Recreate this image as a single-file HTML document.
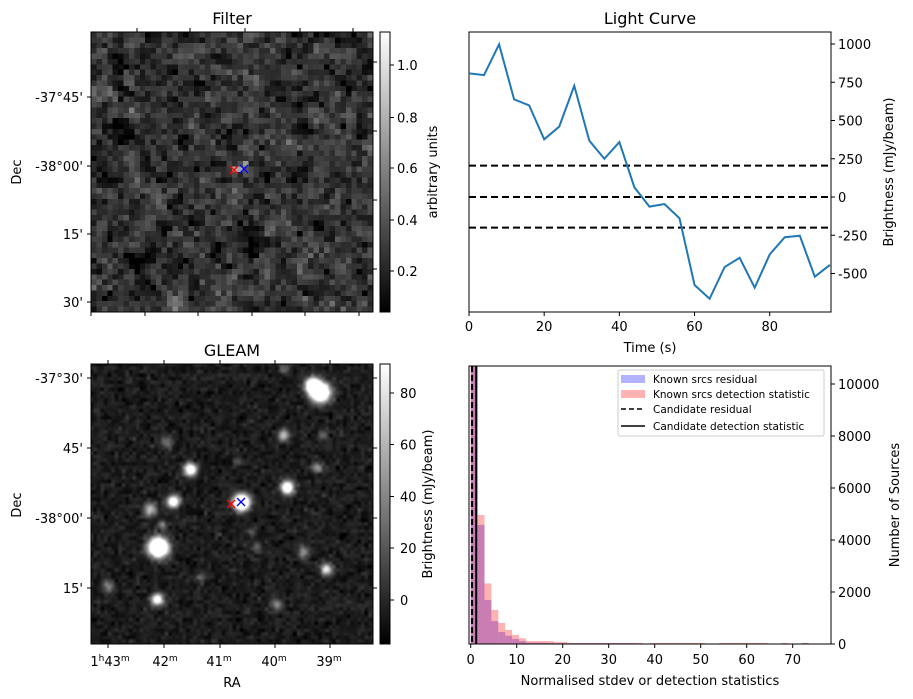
<!DOCTYPE html>
<html><head><meta charset="utf-8">
<style>
body{margin:0;background:#fff;width:913px;height:699px;overflow:hidden;position:relative;font-family:"DejaVu Sans","Liberation Sans",sans-serif;}
canvas{position:absolute;}
svg{position:absolute;left:0;top:0;}
svg text{font-family:"DejaVu Sans","Liberation Sans",sans-serif;fill:#000;}
</style></head><body>
<canvas id="filterImg" width="52" height="52" style="left:91px;top:32px;width:282px;height:280px;image-rendering:pixelated;"></canvas>
<canvas id="gleamImg" width="282" height="280" style="left:91px;top:364px;width:282px;height:280px;"></canvas>
<canvas id="cb1" width="1" height="280" style="left:380px;top:32px;width:10px;height:280px;"></canvas>
<canvas id="cb2" width="1" height="280" style="left:380px;top:364px;width:10px;height:280px;"></canvas>
<svg id="svg" width="913" height="699" xmlns="http://www.w3.org/2000/svg"></svg>
<script>
// ---- Light curve data ----
const lcTimes=[0,4,8,12,16,20,24,28,32,36,40,44,48,52,56,60,64,68,72,76,80,84,88,92,96];
const lcValues=[808,797,998,638,599,377,460,727,368,250,359,63,-63,-46,-139,-575,-665,-458,-397,-593,-375,-263,-253,-521,-444];
const lcThresholds=[205,0,-200];
const lcXTicks=[0,20,40,60,80];
const lcYTicks=[1000,750,500,250,0,-250,-500];
// ---- Histogram data ----
const histBinWidth=1.5;
const histBlue=[11500,4580,1690,880,460,320,190,115,50,50,50,40,30,30,30,30,30,30,30,30,30,30,30,30,0,0,0,0,0,0,0,0,0,0,0,0,0,0,0,0,0,0,0,0,0,0,0,0,30,0,0,0];
const histRed=[11500,4960,2330,1310,810,540,350,220,115,115,115,115,80,80,40,40,40,40,40,40,40,40,40,40,40,0,40,40,40,40,40,40,40,40,0,0,40,40,40,40,40,40,40,0,0,40,0,0,40,0,0,0];
const histXTicks=[0,10,20,30,40,50,60,70];
const histYTicks=[0,2000,4000,6000,8000,10000];
const candResidual=0.3, candDetect=1.2;
// ---- GLEAM sources [x px, y px, amplitude, sigma] (image texture) ----
const gleamSources=[[312,385,160,5],[320,392,200,6.5],[283,435,70,4],[323,435,30,3.5],[167,442,40,4],[190,469,130,4.5],[317,467,45,4],[287,487,140,4.5],[173,501,130,4.2],[150,509,70,4.5],[241,502,200,5.5],[162,525,35,3.5],[158,547,220,6.5],[303,552,55,4],[326,569,90,4],[108,586,45,4],[157,599,120,4.2],[276,604,50,4],[283,368,40,3.5],[251,532,25,3],[257,546,30,3.5],[200,578,25,3.5],[238,461,25,3]];

const svg=document.getElementById('svg');
const NS='http://www.w3.org/2000/svg';
function el(tag,attrs,parent){const e=document.createElementNS(NS,tag);for(const k in attrs)e.setAttribute(k,attrs[k]);(parent||svg).appendChild(e);return e;}
function txt(s,x,y,size,anchor,parent,rot){const t=el('text',{x:x,y:y,'font-size':size,'text-anchor':anchor||'middle'},parent);if(rot)t.setAttribute('transform','rotate('+rot+' '+x+' '+y+')');t.textContent=s;return t;}

let seed=12345;function rnd(){seed=(seed*1103515245+12345)&0x7fffffff;return seed/0x7fffffff;}
function gauss(){return Math.sqrt(-2*Math.log(rnd()+1e-9))*Math.cos(2*Math.PI*rnd());}

// ---- Filter image ----
(function(){const c=document.getElementById('filterImg').getContext('2d');const N=52;let a=[];for(let i=0;i<N*N;i++)a.push(gauss());
let b=[];for(let y=0;y<N;y++)for(let x=0;x<N;x++){let s=0,w=0;for(let dy=-1;dy<=1;dy++)for(let dx=-1;dx<=1;dx++){const xx=x+dx,yy=y+dy;if(xx<0||yy<0||xx>=N||yy>=N)continue;const ww=(dx==0&&dy==0)?2.5:0.3;s+=a[yy*N+xx]*ww;w+=ww;}b.push(s/w);}
const img=c.createImageData(N,N);for(let i=0;i<N*N;i++){let v=0.25+b[i]*0.17;const x=i%N,y=Math.floor(i/N);if((x==26||x==27)&&y==25)v=0.75;if(x==28&&y==24)v=0.7;v=Math.max(0.041,Math.min(1.128,v));const g=Math.round((v-0.041)/(1.128-0.041)*255);img.data[i*4]=g;img.data[i*4+1]=g;img.data[i*4+2]=g;img.data[i*4+3]=255;}c.putImageData(img,0,0);})();

// ---- GLEAM image ----
(function(){const c=document.getElementById('gleamImg').getContext('2d');const W=282,H=280;const M=80;let a=[];for(let i=0;i<M*M;i++)a.push(gauss());
function noise(x,y){const fx=x/W*(M-1),fy=y/H*(M-1);const x0=Math.floor(fx),y0=Math.floor(fy);const tx=fx-x0,ty=fy-y0;const s=t=>t*t*(3-2*t);const g=(i,j)=>a[Math.min(M-1,j)*M+Math.min(M-1,i)];const u=s(tx),v=s(ty);return (g(x0,y0)*(1-u)+g(x0+1,y0)*u)*(1-v)+(g(x0,y0+1)*(1-u)+g(x0+1,y0+1)*u)*v;}
const img=c.createImageData(W,H);for(let y=0;y<H;y++)for(let x=0;x<W;x++){let v=-5+noise(x,y)*5;const px=x+91,py=y+364;for(const s of gleamSources){const d2=(px-s[0])**2+(py-s[1])**2;v+=s[2]*Math.exp(-d2/(2*s[3]*s[3]));}
v=Math.max(-17,Math.min(91,v));const g=Math.round((v+17)/108*255);const i=(y*W+x)*4;img.data[i]=g;img.data[i+1]=g;img.data[i+2]=g;img.data[i+3]=255;}c.putImageData(img,0,0);})();

['cb1','cb2'].forEach(id=>{const c=document.getElementById(id).getContext('2d');const g=c.createLinearGradient(0,0,0,280);g.addColorStop(0,'#fff');g.addColorStop(1,'#000');c.fillStyle=g;c.fillRect(0,0,1,280);});

function frame(x,y,w,h,name){const r=el('rect',{x:x,y:y,width:w,height:h,fill:'none',stroke:'#000','stroke-width':1});}
frame(91,32,282,280,'filter-frame');frame(380,32,10,280,'filter-colorbar-frame');
frame(91,364,282,280,'gleam-frame');frame(380,364,10,280,'gleam-colorbar-frame');
txt('Filter',232,24,16);txt('GLEAM',232,356,16);
[['-37°45\'',97],['-38°00\'',166],['15\'',234],['30\'',302]].forEach(t=>{el('line',{x1:87,y1:t[1],x2:91,y2:t[1],stroke:'#000'});txt(t[0],83,t[1]+5,13,'end');});
[62,131,200,269].forEach(y=>el('line',{x1:373,y1:y,x2:377,y2:y,stroke:'#000'}));
[137,190,245,300,353].forEach(x=>el('line',{x1:x,y1:28,x2:x,y2:32,stroke:'#000'}));
[91,145,198,252,305,359].forEach(x=>el('line',{x1:x,y1:312,x2:x,y2:316,stroke:'#000'}));
txt('Dec',21,172,13,'middle',null,-90);
[[1.0,65],[0.8,117.5],[0.6,168],[0.4,220],[0.2,271]].forEach(t=>{el('line',{x1:390,y1:t[1],x2:394,y2:t[1],stroke:'#000'});txt(t[0].toFixed(1),397,t[1]+5,13,'start');});
txt('arbitrary units',437,172,13,'middle',null,-90);
[['-37°30\'',378],['45\'',448],['-38°00\'',518],['15\'',588]].forEach(t=>{el('line',{x1:87,y1:t[1],x2:91,y2:t[1],stroke:'#000'});el('line',{x1:373,y1:t[1],x2:377,y2:t[1],stroke:'#000'});txt(t[0],83,t[1]+5,13,'end');});
[108,164,220,275,330].forEach(x=>{el('line',{x1:x,y1:360,x2:x,y2:364,stroke:'#000'});el('line',{x1:x,y1:644,x2:x,y2:648,stroke:'#000'});});
[['1','43',110],['','42',165],['','41',219],['','40',274],['','39',329]].forEach(t=>{const g=el('text',{x:t[2],y:666,'font-size':13,'text-anchor':'middle'});g.innerHTML=(t[0]?t[0]+'<tspan dy="-5" font-size="9">h</tspan><tspan dy="5">'+t[1]+'</tspan>':t[1])+'<tspan dy="-5" font-size="9">m</tspan>';});
txt('RA',232,687,13);txt('Dec',21,505,13,'middle',null,-90);
[[80,393],[60,444.5],[40,496.5],[20,548],[0,600]].forEach(t=>{el('line',{x1:390,y1:t[1],x2:394,y2:t[1],stroke:'#000'});txt(String(t[0]),400,t[1]+5,13,'start');});
txt('Brightness (mJy/beam)',432,504,13,'middle',null,-90);
function xmark(x,y,col,name){const g=el('g',{stroke:col,'stroke-width':1.3});el('line',{x1:x-4,y1:y-4,x2:x+4,y2:y+4},g);el('line',{x1:x-4,y1:y+4,x2:x+4,y2:y-4},g);}
xmark(234,170,'red','filter-candidate-marker');xmark(244,169,'blue','filter-known-marker');
xmark(231,504,'red','gleam-candidate-marker');xmark(241,502,'blue','gleam-known-marker');

// ---- Light curve ----
const L={x0:469,x1:831,y0:32,y1:312};
const lx=v=>L.x0+v*(L.x1-L.x0)/96.3;
const ly=v=>197-v*0.153;
frame(L.x0,L.y0,L.x1-L.x0,L.y1-L.y0,'light-curve-frame');
txt('Light Curve',650,24,16);
lcThresholds.forEach(v=>{const l=el('line',{x1:L.x0,y1:ly(v),x2:L.x1,y2:ly(v),stroke:'#000','stroke-width':2,'stroke-dasharray':'7,4'});});
const lcPath=el('polyline',{points:lcTimes.map((t,i)=>lx(t)+','+ly(lcValues[i])).join(' '),fill:'none',stroke:'#1f77b4','stroke-width':2});

lcXTicks.forEach(v=>{el('line',{x1:lx(v),y1:312,x2:lx(v),y2:316,stroke:'#000'});txt(String(v),lx(v),331,13);});
lcYTicks.forEach(v=>{el('line',{x1:831,y1:ly(v),x2:835,y2:ly(v),stroke:'#000'});txt(String(v),838,ly(v)+5,13,'start');});
txt('Time (s)',650,352,13);
txt('Brightness (mJy/beam)',893,172,13,'middle',null,-90);

// ---- Histogram ----
const H={x0:469,x1:831,y0:366,y1:644};
const hx=v=>470.7+v*4.6;
const hy=v=>644-v*0.026;
const clip=el('clipPath',{id:'hclip'});el('rect',{x:H.x0,y:H.y0,width:H.x1-H.x0,height:H.y1-H.y0},clip);
const hg=el('g',{'clip-path':'url(#hclip)'});
histBlue.forEach((v,i)=>{if(!v)return;const r=el('rect',{x:hx(i*histBinWidth),y:hy(v),width:hx(histBinWidth)-hx(0),height:644-hy(v),fill:'#0000ff','fill-opacity':0.3},hg);});
histRed.forEach((v,i)=>{if(!v)return;const r=el('rect',{x:hx(i*histBinWidth),y:hy(v),width:hx(histBinWidth)-hx(0),height:644-hy(v),fill:'#ff0000','fill-opacity':0.3},hg);});
const cl1=el('line',{x1:hx(candResidual),y1:H.y0,x2:hx(candResidual),y2:H.y1,stroke:'#000','stroke-width':2,'stroke-dasharray':'6,3'});

const cl2=el('line',{x1:hx(candDetect),y1:H.y0,x2:hx(candDetect),y2:H.y1,stroke:'#000','stroke-width':2});

frame(H.x0,H.y0,H.x1-H.x0,H.y1-H.y0,'histogram-frame');
histXTicks.forEach(v=>{el('line',{x1:hx(v),y1:644,x2:hx(v),y2:648,stroke:'#000'});txt(String(v),hx(v),664,13);});
histYTicks.forEach(v=>{el('line',{x1:831,y1:hy(v),x2:835,y2:hy(v),stroke:'#000'});txt(String(v),838,hy(v)+5,13,'start');});
txt('Normalised stdev or detection statistics',650,685,13);
txt('Number of Sources',899,505,13,'middle',null,-90);
const lg=el('g',{});
el('rect',{x:618,y:370,width:206,height:66,rx:2,fill:'#fff','fill-opacity':0.85,stroke:'#ccc'},lg);
el('rect',{x:621,y:375,width:24,height:8,fill:'#0000ff','fill-opacity':0.3},lg);
el('rect',{x:621,y:390,width:24,height:8,fill:'#ff0000','fill-opacity':0.3},lg);
el('line',{x1:621,y1:409,x2:645,y2:409,stroke:'#000','stroke-width':1.5,'stroke-dasharray':'5,3'},lg);
el('line',{x1:621,y1:426,x2:645,y2:426,stroke:'#000','stroke-width':1.5},lg);
txt('Known srcs residual',653,383,10.5,'start',lg);
txt('Known srcs detection statistic',653,398,10.5,'start',lg);
txt('Candidate residual',653,413,10.5,'start',lg);
txt('Candidate detection statistic',653,430,10.5,'start',lg);
</script>
</body></html>
